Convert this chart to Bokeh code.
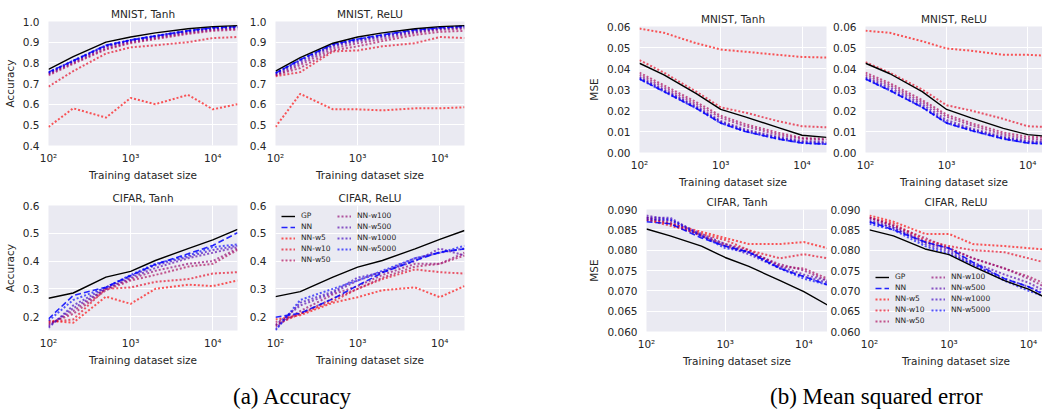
from bokeh.plotting import figure
from bokeh.layouts import column, row
from bokeh.models import (FixedTicker, PrintfTickFormatter, CustomJSTickFormatter,
                          Legend, LegendItem, Div, Range1d)
from bokeh.embed import file_html
from bokeh.resources import INLINE

# ---------------- data ----------------
train_sizes = [100, 200, 500, 1000, 2000, 5000, 10000, 20000]
series_names = ["GP", "NN", "NN-w5", "NN-w10", "NN-w50", "NN-w100", "NN-w500", "NN-w1000", "NN-w5000"]

# Accuracy, MNIST, Tanh
acc_mnist_tanh_gp = [0.768, 0.830, 0.900, 0.925, 0.945, 0.965, 0.975, 0.980]
acc_mnist_tanh_nn = [0.755, 0.810, 0.885, 0.910, 0.930, 0.955, 0.970, 0.975]
acc_mnist_tanh_w5 = [0.490, 0.580, 0.535, 0.630, 0.600, 0.645, 0.575, 0.600]
acc_mnist_tanh_w10 = [0.685, 0.760, 0.845, 0.875, 0.885, 0.900, 0.920, 0.925]
acc_mnist_tanh_w50 = [0.740, 0.795, 0.865, 0.895, 0.915, 0.940, 0.955, 0.960]
acc_mnist_tanh_w100 = [0.745, 0.800, 0.870, 0.900, 0.920, 0.945, 0.960, 0.965]
acc_mnist_tanh_w500 = [0.750, 0.805, 0.880, 0.905, 0.925, 0.950, 0.965, 0.970]
acc_mnist_tanh_w1000 = [0.750, 0.810, 0.880, 0.910, 0.930, 0.955, 0.968, 0.973]
acc_mnist_tanh_w5000 = [0.755, 0.810, 0.885, 0.910, 0.930, 0.955, 0.970, 0.975]

# Accuracy, MNIST, ReLU
acc_mnist_relu_gp = [0.760, 0.825, 0.895, 0.925, 0.945, 0.965, 0.975, 0.980]
acc_mnist_relu_nn = [0.750, 0.815, 0.890, 0.915, 0.935, 0.960, 0.970, 0.977]
acc_mnist_relu_w5 = [0.490, 0.650, 0.575, 0.575, 0.570, 0.580, 0.580, 0.585]
acc_mnist_relu_w10 = [0.735, 0.755, 0.855, 0.860, 0.880, 0.895, 0.925, 0.920]
acc_mnist_relu_w50 = [0.740, 0.775, 0.860, 0.880, 0.905, 0.935, 0.950, 0.955]
acc_mnist_relu_w100 = [0.740, 0.790, 0.870, 0.895, 0.915, 0.945, 0.960, 0.965]
acc_mnist_relu_w500 = [0.745, 0.800, 0.880, 0.905, 0.925, 0.950, 0.965, 0.970]
acc_mnist_relu_w1000 = [0.750, 0.810, 0.885, 0.910, 0.930, 0.955, 0.968, 0.975]
acc_mnist_relu_w5000 = [0.750, 0.815, 0.890, 0.915, 0.935, 0.960, 0.970, 0.977]

# Accuracy, CIFAR, Tanh
acc_cifar_tanh_gp = [0.266, 0.285, 0.342, 0.363, 0.402, 0.445, 0.476, 0.514]
acc_cifar_tanh_nn = [0.192, 0.276, 0.306, 0.348, 0.388, 0.426, 0.456, 0.502]
acc_cifar_tanh_w5 = [0.185, 0.178, 0.272, 0.246, 0.300, 0.315, 0.310, 0.330]
acc_cifar_tanh_w10 = [0.180, 0.190, 0.300, 0.305, 0.325, 0.335, 0.355, 0.360]
acc_cifar_tanh_w50 = [0.175, 0.210, 0.295, 0.330, 0.350, 0.380, 0.390, 0.440]
acc_cifar_tanh_w100 = [0.170, 0.220, 0.300, 0.335, 0.365, 0.390, 0.400, 0.445]
acc_cifar_tanh_w500 = [0.165, 0.230, 0.300, 0.340, 0.375, 0.410, 0.430, 0.450]
acc_cifar_tanh_w1000 = [0.160, 0.240, 0.305, 0.345, 0.385, 0.415, 0.440, 0.455]
acc_cifar_tanh_w5000 = [0.185, 0.260, 0.305, 0.350, 0.390, 0.420, 0.450, 0.460]

# Accuracy, CIFAR, ReLU
acc_cifar_relu_gp = [0.272, 0.290, 0.342, 0.378, 0.402, 0.444, 0.478, 0.510]
acc_cifar_relu_nn = [0.198, 0.212, 0.264, 0.312, 0.358, 0.402, 0.432, 0.444]
acc_cifar_relu_w5 = [0.190, 0.205, 0.250, 0.270, 0.295, 0.305, 0.270, 0.310]
acc_cifar_relu_w10 = [0.170, 0.210, 0.255, 0.300, 0.335, 0.370, 0.360, 0.355]
acc_cifar_relu_w50 = [0.180, 0.210, 0.265, 0.300, 0.340, 0.380, 0.390, 0.420]
acc_cifar_relu_w100 = [0.165, 0.220, 0.280, 0.310, 0.350, 0.390, 0.390, 0.430]
acc_cifar_relu_w500 = [0.170, 0.240, 0.285, 0.330, 0.360, 0.400, 0.445, 0.420]
acc_cifar_relu_w1000 = [0.155, 0.250, 0.290, 0.340, 0.360, 0.410, 0.430, 0.445]
acc_cifar_relu_w5000 = [0.150, 0.260, 0.300, 0.330, 0.365, 0.410, 0.430, 0.455]

# MSE, MNIST, Tanh
mse_mnist_tanh_gp = [0.0425, 0.0370, 0.0280, 0.0205, 0.0170, 0.0120, 0.0082, 0.0072]
mse_mnist_tanh_nn = [0.0350, 0.0290, 0.0210, 0.0140, 0.0100, 0.0065, 0.0045, 0.0040]
mse_mnist_tanh_w5 = [0.0590, 0.0570, 0.0520, 0.0490, 0.0480, 0.0465, 0.0455, 0.0452]
mse_mnist_tanh_w10 = [0.0440, 0.0380, 0.0290, 0.0215, 0.0190, 0.0150, 0.0125, 0.0120]
mse_mnist_tanh_w50 = [0.0380, 0.0320, 0.0240, 0.0175, 0.0135, 0.0095, 0.0070, 0.0065]
mse_mnist_tanh_w100 = [0.0370, 0.0310, 0.0230, 0.0165, 0.0125, 0.0085, 0.0065, 0.0060]
mse_mnist_tanh_w500 = [0.0360, 0.0300, 0.0220, 0.0150, 0.0110, 0.0075, 0.0055, 0.0050]
mse_mnist_tanh_w1000 = [0.0355, 0.0295, 0.0215, 0.0145, 0.0105, 0.0070, 0.0050, 0.0045]
mse_mnist_tanh_w5000 = [0.0350, 0.0290, 0.0210, 0.0140, 0.0100, 0.0065, 0.0045, 0.0040]

# MSE, MNIST, ReLU
mse_mnist_relu_gp = [0.0425, 0.0375, 0.0290, 0.0205, 0.0165, 0.0115, 0.0085, 0.0075]
mse_mnist_relu_nn = [0.0350, 0.0295, 0.0215, 0.0140, 0.0105, 0.0065, 0.0045, 0.0040]
mse_mnist_relu_w5 = [0.0580, 0.0570, 0.0530, 0.0495, 0.0485, 0.0465, 0.0465, 0.0460]
mse_mnist_relu_w10 = [0.0430, 0.0380, 0.0300, 0.0225, 0.0200, 0.0160, 0.0125, 0.0120]
mse_mnist_relu_w50 = [0.0380, 0.0330, 0.0250, 0.0180, 0.0140, 0.0095, 0.0075, 0.0070]
mse_mnist_relu_w100 = [0.0370, 0.0320, 0.0240, 0.0170, 0.0130, 0.0085, 0.0065, 0.0060]
mse_mnist_relu_w500 = [0.0360, 0.0310, 0.0230, 0.0155, 0.0115, 0.0075, 0.0055, 0.0050]
mse_mnist_relu_w1000 = [0.0355, 0.0300, 0.0220, 0.0145, 0.0110, 0.0070, 0.0050, 0.0045]
mse_mnist_relu_w5000 = [0.0350, 0.0295, 0.0215, 0.0140, 0.0105, 0.0065, 0.0045, 0.0040]

# MSE, CIFAR, Tanh
mse_cifar_tanh_gp = [0.0852, 0.0835, 0.0810, 0.0782, 0.0760, 0.0725, 0.0698, 0.0665]
mse_cifar_tanh_nn = [0.0870, 0.0865, 0.0830, 0.0810, 0.0795, 0.0755, 0.0735, 0.0715]
mse_cifar_tanh_w5 = [0.0875, 0.0865, 0.0845, 0.0830, 0.0815, 0.0815, 0.0820, 0.0805]
mse_cifar_tanh_w10 = [0.0875, 0.0860, 0.0840, 0.0825, 0.0800, 0.0780, 0.0790, 0.0780]
mse_cifar_tanh_w50 = [0.0880, 0.0865, 0.0835, 0.0815, 0.0800, 0.0760, 0.0755, 0.0730]
mse_cifar_tanh_w100 = [0.0880, 0.0870, 0.0835, 0.0810, 0.0795, 0.0765, 0.0750, 0.0725]
mse_cifar_tanh_w500 = [0.0885, 0.0875, 0.0840, 0.0815, 0.0795, 0.0760, 0.0740, 0.0725]
mse_cifar_tanh_w1000 = [0.0880, 0.0880, 0.0835, 0.0810, 0.0790, 0.0755, 0.0735, 0.0720]
mse_cifar_tanh_w5000 = [0.0875, 0.0875, 0.0835, 0.0805, 0.0795, 0.0755, 0.0730, 0.0715]

# MSE, CIFAR, ReLU
mse_cifar_relu_gp = [0.0850, 0.0835, 0.0803, 0.0789, 0.0760, 0.0725, 0.0704, 0.0675]
mse_cifar_relu_nn = [0.0870, 0.0850, 0.0820, 0.0805, 0.0770, 0.0730, 0.0710, 0.0680]
mse_cifar_relu_w5 = [0.0885, 0.0870, 0.0840, 0.0840, 0.0815, 0.0810, 0.0805, 0.0800]
mse_cifar_relu_w10 = [0.0880, 0.0865, 0.0825, 0.0810, 0.0800, 0.0795, 0.0780, 0.0765]
mse_cifar_relu_w50 = [0.0880, 0.0860, 0.0830, 0.0805, 0.0780, 0.0755, 0.0735, 0.0710]
mse_cifar_relu_w100 = [0.0880, 0.0860, 0.0820, 0.0805, 0.0780, 0.0755, 0.0730, 0.0700]
mse_cifar_relu_w500 = [0.0875, 0.0855, 0.0820, 0.0800, 0.0770, 0.0740, 0.0720, 0.0690]
mse_cifar_relu_w1000 = [0.0870, 0.0855, 0.0815, 0.0795, 0.0765, 0.0730, 0.0710, 0.0685]
mse_cifar_relu_w5000 = [0.0865, 0.0850, 0.0810, 0.0790, 0.0765, 0.0725, 0.0700, 0.0680]

# ---------------- styles ----------------
BG = "#EAEAF2"
TXT = "#262626"
FONT = "DejaVu Sans"
width_colors = ["#FF0000", "#E6001A", "#AA0055", "#90006E", "#5500AA", "#3B00C3", "#0000FF"]

SUP = CustomJSTickFormatter(code="""
const s = {0:'\u2070',1:'\u00b9',2:'\u00b2',3:'\u00b3',4:'\u2074',5:'\u2075'};
const e = Math.round(Math.log10(tick));
return '10' + (s[e] !== undefined ? s[e] : e);
""")


def panel(title, series, y_start, y_end, y_ticks, y_fmt, ylabel, x_end,
          width, height, bl, br, bt, bb, legend_loc=None):
    p = figure(width=width, height=height, x_axis_type="log",
               x_range=Range1d(100, x_end), y_range=Range1d(y_start, y_end),
               output_backend="svg", toolbar_location=None,
               min_border_left=bl, min_border_right=br,
               min_border_top=bt, min_border_bottom=bb, title=title)
    p.background_fill_color = BG
    p.border_fill_color = "white"
    p.outline_line_color = None
    p.title.align = "center"
    p.title.text_font = FONT
    p.title.text_font_size = "10.5px"
    p.title.text_font_style = "normal"
    p.title.text_color = TXT
    p.title.standoff = 3

    p.xaxis.ticker = FixedTicker(ticks=[100, 1000, 10000])
    p.xaxis.formatter = SUP
    p.xaxis.axis_label = "Training dataset size"
    p.yaxis.ticker = FixedTicker(ticks=y_ticks)
    p.yaxis.formatter = PrintfTickFormatter(format=y_fmt)
    if ylabel:
        p.yaxis.axis_label = ylabel
    for ax in (p.xaxis[0], p.yaxis[0]):
        ax.axis_line_color = None
        ax.major_tick_line_color = None
        ax.minor_tick_line_color = None
        ax.major_label_text_font = FONT
        ax.major_label_text_font_size = "10.5px"
        ax.major_label_text_color = TXT
        ax.axis_label_text_font = FONT
        ax.axis_label_text_font_size = "10.5px"
        ax.axis_label_text_font_style = "normal"
        ax.axis_label_text_color = TXT
    p.xaxis.major_label_standoff = 0
    p.xaxis.axis_label_standoff = 2
    p.yaxis.major_label_standoff = 3
    p.yaxis.axis_label_standoff = 4
    p.xgrid.grid_line_color = "white"
    p.ygrid.grid_line_color = "white"
    p.xgrid.grid_line_width = 1
    p.ygrid.grid_line_width = 1

    gp, nn, widths = series[0], series[1], series[2:]
    rends = []
    for i, ys in enumerate(widths):
        r = p.line(train_sizes, ys, line_color=width_colors[i], line_width=2,
                   line_dash="2 2", line_alpha=0.65)
        rends.append(r)
    r_nn = p.line(train_sizes, nn, line_color="#0000FF", line_width=1.6,
                  line_dash="6 3", line_alpha=0.85)
    r_gp = p.line(train_sizes, gp, line_color="black", line_width=1.4)
    allr = [r_gp, r_nn] + rends

    if legend_loc:
        items = [LegendItem(label=n, renderers=[r]) for n, r in zip(series_names, allr)]
        leg = Legend(items=items, location=legend_loc, nrows=5,
                     background_fill_alpha=0, border_line_alpha=0,
                     label_text_font=FONT, label_text_font_size="7.5px",
                     label_text_color=TXT, glyph_width=14, glyph_height=8,
                     label_height=8, label_width=34, label_standoff=6,
                     spacing=2, padding=4, margin=2)
        p.add_layout(leg)
    return p


ACC_TICKS = [0.4, 0.5, 0.6, 0.7, 0.8, 0.9, 1.0]
ACC_C_TICKS = [0.2, 0.3, 0.4, 0.5, 0.6]
MSE_M_TICKS = [0.0, 0.01, 0.02, 0.03, 0.04, 0.05, 0.06]
MSE_C_TICKS = [0.060, 0.065, 0.070, 0.075, 0.080, 0.085, 0.090]

# left block (accuracy)
p1 = panel("MNIST, Tanh",
           [acc_mnist_tanh_gp, acc_mnist_tanh_nn, acc_mnist_tanh_w5, acc_mnist_tanh_w10,
            acc_mnist_tanh_w50, acc_mnist_tanh_w100, acc_mnist_tanh_w500,
            acc_mnist_tanh_w1000, acc_mnist_tanh_w5000],
           0.4, 1.0, ACC_TICKS, "%.1f", "Accuracy", 20000,
           245, 184, 48, 8, 21, 39)
p2 = panel("MNIST, ReLU",
           [acc_mnist_relu_gp, acc_mnist_relu_nn, acc_mnist_relu_w5, acc_mnist_relu_w10,
            acc_mnist_relu_w50, acc_mnist_relu_w100, acc_mnist_relu_w500,
            acc_mnist_relu_w1000, acc_mnist_relu_w5000],
           0.4, 1.0, ACC_TICKS, "%.1f", None, 20000,
           227, 184, 30, 8, 21, 39)
p3 = panel("CIFAR, Tanh",
           [acc_cifar_tanh_gp, acc_cifar_tanh_nn, acc_cifar_tanh_w5, acc_cifar_tanh_w10,
            acc_cifar_tanh_w50, acc_cifar_tanh_w100, acc_cifar_tanh_w500,
            acc_cifar_tanh_w1000, acc_cifar_tanh_w5000],
           0.15, 0.6, ACC_C_TICKS, "%.1f", "Accuracy", 20000,
           245, 185, 48, 8, 21, 39)
p4 = panel("CIFAR, ReLU",
           [acc_cifar_relu_gp, acc_cifar_relu_nn, acc_cifar_relu_w5, acc_cifar_relu_w10,
            acc_cifar_relu_w50, acc_cifar_relu_w100, acc_cifar_relu_w500,
            acc_cifar_relu_w1000, acc_cifar_relu_w5000],
           0.15, 0.6, ACC_C_TICKS, "%.1f", None, 20000,
           227, 185, 30, 8, 21, 39, legend_loc="top_left")

# right block (MSE)
p5 = panel("MNIST, Tanh",
           [mse_mnist_tanh_gp, mse_mnist_tanh_nn, mse_mnist_tanh_w5, mse_mnist_tanh_w10,
            mse_mnist_tanh_w50, mse_mnist_tanh_w100, mse_mnist_tanh_w500,
            mse_mnist_tanh_w1000, mse_mnist_tanh_w5000],
           0.0, 0.06, MSE_M_TICKS, "%.2f", "MSE", 20000,
           358, 190, 167, 4, 26, 38)
p6 = panel("MNIST, ReLU",
           [mse_mnist_relu_gp, mse_mnist_relu_nn, mse_mnist_relu_w5, mse_mnist_relu_w10,
            mse_mnist_relu_w50, mse_mnist_relu_w100, mse_mnist_relu_w500,
            mse_mnist_relu_w1000, mse_mnist_relu_w5000],
           0.0, 0.06, MSE_M_TICKS, "%.2f", None, 15200,
           212, 190, 34, 0, 26, 38)
p7 = panel("CIFAR, Tanh",
           [mse_cifar_tanh_gp, mse_cifar_tanh_nn, mse_cifar_tanh_w5, mse_cifar_tanh_w10,
            mse_cifar_tanh_w50, mse_cifar_tanh_w100, mse_cifar_tanh_w500,
            mse_cifar_tanh_w1000, mse_cifar_tanh_w5000],
           0.06, 0.09, MSE_C_TICKS, "%.3f", "MSE", 20000,
           355, 179, 174, 0, 19, 38)
p8 = panel("CIFAR, ReLU",
           [mse_cifar_relu_gp, mse_cifar_relu_nn, mse_cifar_relu_w5, mse_cifar_relu_w10,
            mse_cifar_relu_w50, mse_cifar_relu_w100, mse_cifar_relu_w500,
            mse_cifar_relu_w1000, mse_cifar_relu_w5000],
           0.06, 0.09, MSE_C_TICKS, "%.3f", None, 15000,
           215, 179, 40, 0, 19, 38, legend_loc="bottom_left")

cap_style = ("font-family:'Liberation Serif','Times New Roman',serif;font-size:23px;"
             "color:#000;white-space:nowrap;line-height:26px;padding-top:15px;")
cap_a = Div(text=f'<div style="{cap_style}padding-left:233px;">(a) Accuracy</div>',
            width=472, height=41, margin=0)
cap_b = Div(text=f'<div style="{cap_style}padding-left:298px;">(b) Mean squared error</div>',
            width=570, height=41, margin=0)

left = column(row(p1, p2, spacing=0), row(p3, p4, spacing=0), spacing=0)
right = column(row(p5, p6, spacing=0), row(p7, p8, spacing=0), spacing=0)
layout = column(row(left, right, spacing=0), row(cap_a, cap_b, spacing=0), spacing=0)

open("out.html", "w").write(file_html(layout, INLINE))
